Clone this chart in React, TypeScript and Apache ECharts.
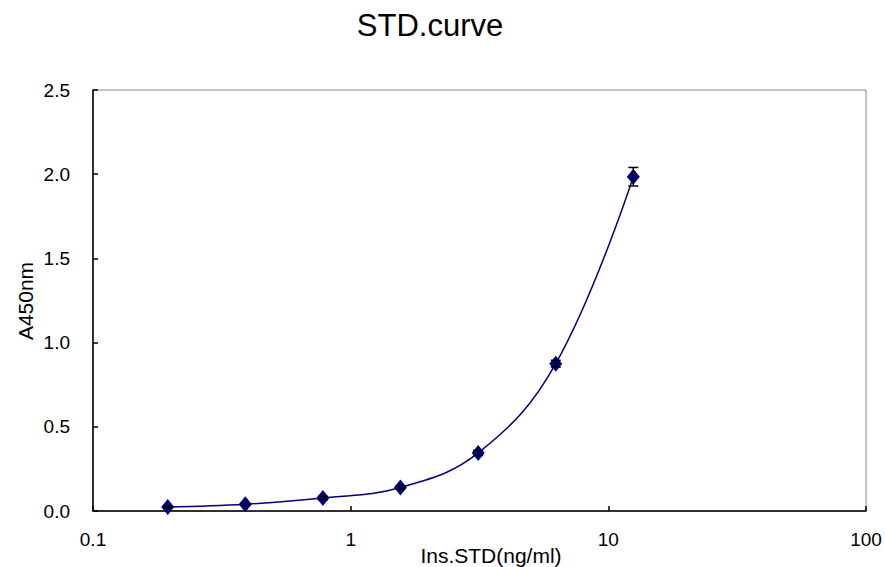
import React, { useEffect, useRef } from "react";
import * as echarts from "echarts";

const titleText = "STD.curve";
const xAxisName = "Ins.STD(ng/ml)";
const yAxisName = "A450nm";
const concentrations = [0.195, 0.39, 0.78, 1.56, 3.125, 6.25, 12.5];
const absorbance = [0.024, 0.04, 0.077, 0.14, 0.345, 0.875, 1.985];
const errors = [0.005, 0.006, 0.01, 0.01, 0.015, 0.02, 0.055];

const NAVY = "#000080";
const FONT = "'Liberation Sans', Arial, sans-serif";

export default function App() {
  const ref = useRef<HTMLDivElement>(null);
  useEffect(() => {
    if (!ref.current) return;
    const chart = echarts.init(ref.current, null, { renderer: "svg" });
    const points = concentrations.map((c, i) => [c, absorbance[i]]);
    const errData = concentrations.map((c, i) => [c, absorbance[i] - errors[i], absorbance[i] + errors[i]]);
    chart.setOption({
      animation: false,
      backgroundColor: "#ffffff",
      graphic: [
        {
          type: "text",
          x: 430,
          y: 25,
          style: {
            text: titleText,
            fontSize: 31,
            fontFamily: FONT,
            fill: "#000",
            align: "center",
            verticalAlign: "middle",
          },
        },
        {
          type: "text",
          x: 491,
          y: 555,
          style: {
            text: xAxisName,
            fontSize: 21,
            fontFamily: FONT,
            fill: "#000",
            align: "center",
            verticalAlign: "middle",
          },
        },
        {
          type: "text",
          x: 25,
          y: 301,
          rotation: Math.PI / 2,
          style: {
            text: yAxisName,
            fontSize: 21,
            fontFamily: FONT,
            fill: "#000",
            align: "center",
            verticalAlign: "middle",
          },
        },
      ],
      grid: {
        left: 93,
        right: 19,
        top: 90,
        bottom: 56,
        show: true,
        borderColor: "#888",
        borderWidth: 1,
        backgroundColor: "#fff",
      },
      xAxis: {
        type: "log",
        logBase: 10,
        min: 0.1,
        max: 100,
        axisLine: { show: true, lineStyle: { color: "#000", width: 1.5 } },
        axisTick: { show: true, inside: true, length: 5, lineStyle: { color: "#000", width: 1.5 } },
        axisLabel: {
          color: "#000",
          fontSize: 19,
          fontFamily: FONT,
          margin: 19,
          formatter: (v: number) => String(parseFloat(v.toPrecision(3))),
        },
        splitLine: { show: false },
        minorTick: { show: false },
      },
      yAxis: {
        type: "value",
        min: 0,
        max: 2.5,
        interval: 0.5,
        axisLine: { show: true, lineStyle: { color: "#000", width: 1.5 } },
        axisTick: { show: true, inside: true, length: 5, lineStyle: { color: "#000", width: 1.5 } },
        axisLabel: {
          color: "#000",
          fontSize: 19,
          fontFamily: FONT,
          margin: 23,
          formatter: (v: number) => v.toFixed(1),
        },
        splitLine: { show: false },
      },
      series: [
        {
          type: "line",
          data: points,
          smooth: 0.4,
          symbol: "diamond",
          symbolSize: [13, 16],
          itemStyle: { color: NAVY },
          lineStyle: { color: NAVY, width: 1.5 },
          z: 3,
        },
        {
          type: "custom",
          data: errData,
          z: 4,
          renderItem: (params: any, api: any) => {
            const x = api.value(0);
            const lo = api.coord([x, api.value(1)]);
            const hi = api.coord([x, api.value(2)]);
            const half = 5;
            const style = { stroke: "#000", lineWidth: 1.5 };
            return {
              type: "group",
              children: [
                { type: "line", shape: { x1: lo[0], y1: lo[1], x2: hi[0], y2: hi[1] }, style },
                { type: "line", shape: { x1: lo[0] - half, y1: lo[1], x2: lo[0] + half, y2: lo[1] }, style },
                { type: "line", shape: { x1: hi[0] - half, y1: hi[1], x2: hi[0] + half, y2: hi[1] }, style },
              ],
            };
          },
        },
      ],
    });
    return () => chart.dispose();
  }, []);
  return (
    <div
      ref={ref}
      style={{ position: "absolute", left: 0, top: 0, width: 885, height: 567 }}
    />
  );
}
